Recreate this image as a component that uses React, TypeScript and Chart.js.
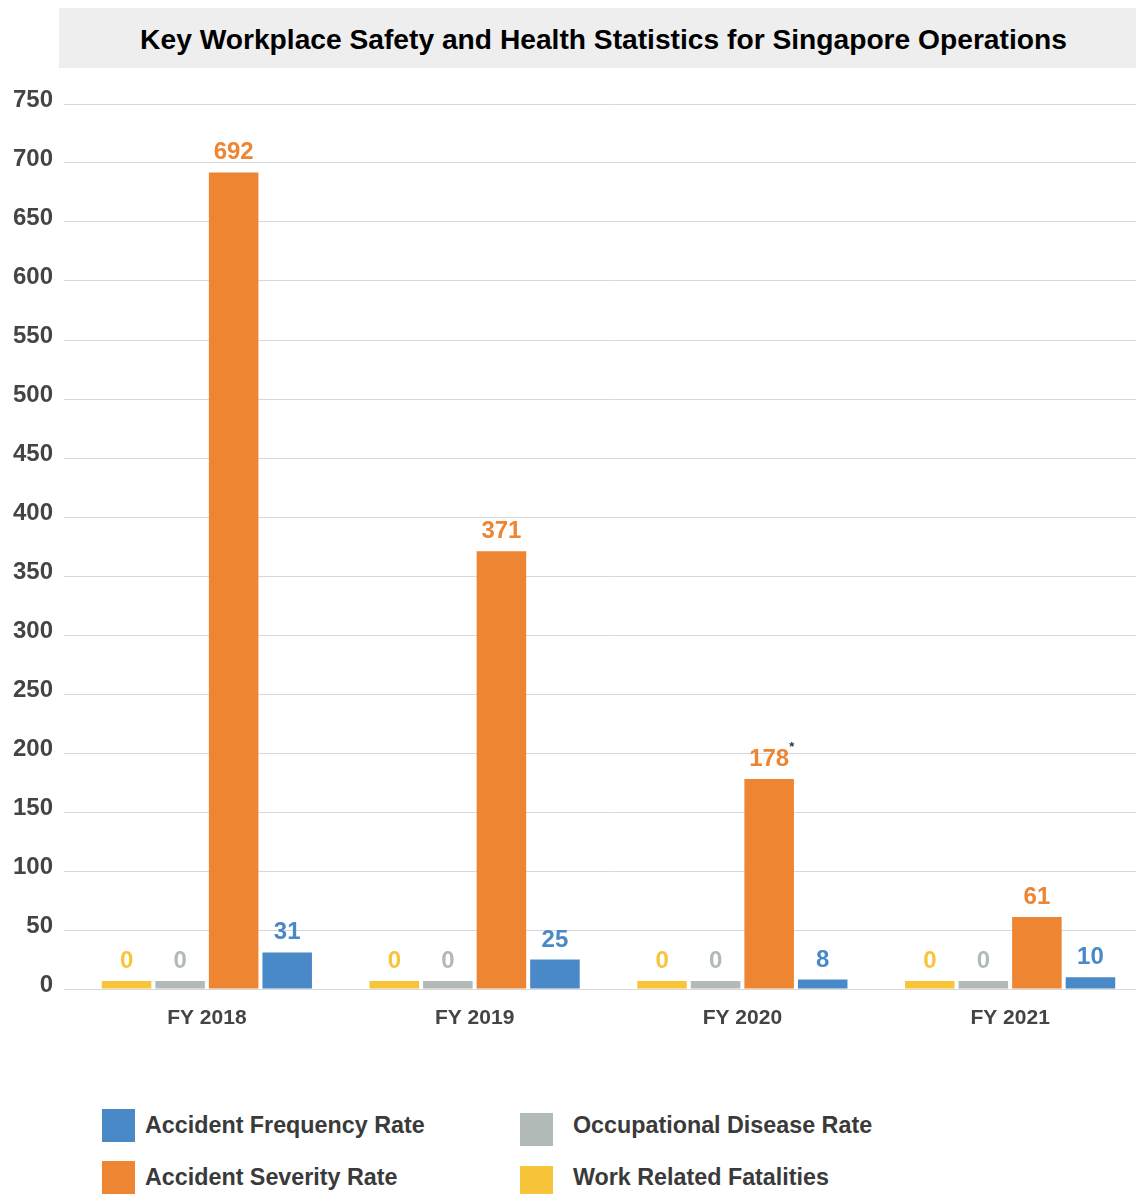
import React, { useEffect, useRef } from "react";
import { Chart, registerables } from "chart.js";

Chart.register(...registerables);

const FONT = '"Liberation Sans", Arial, Helvetica, sans-serif';

const title = "Key Workplace Safety and Health Statistics for Singapore Operations";
const categories = ["FY 2018", "FY 2019", "FY 2020", "FY 2021"];

const workRelatedFatalities = [0, 0, 0, 0];
const occupationalDiseaseRate = [0, 0, 0, 0];
const accidentSeverityRate = [692, 371, 178, 61];
const accidentFrequencyRate = [31, 25, 8, 10];
const severityFootnotes = ["", "", "*", ""];

const yMin = 0;
const yMax = 750;
const yStep = 50;

const COLORS = {
  fatalities: "#f7c43a",
  disease: "#b1bab6",
  severity: "#ee8532",
  frequency: "#4a89c8",
};

const seriesLabels = {
  fatalities: "Work Related Fatalities",
  disease: "Occupational Disease Rate",
  severity: "Accident Severity Rate",
  frequency: "Accident Frequency Rate",
};

// legend grid order (row-major, two columns)
const legendOrder: (keyof typeof COLORS)[] = ["frequency", "disease", "severity", "fatalities"];

const valueLabelPlugin = {
  id: "valueLabels",
  afterDatasetsDraw(chart: any) {
    const ctx = chart.ctx;
    ctx.save();
    chart.data.datasets.forEach((ds: any, di: number) => {
      const meta = chart.getDatasetMeta(di);
      meta.data.forEach((bar: any, i: number) => {
        const text = String(ds.data[i]);
        ctx.font = `bold 24px ${FONT}`;
        ctx.textAlign = "center";
        ctx.textBaseline = "alphabetic";
        ctx.fillStyle = ds.backgroundColor;
        const by = bar.y - 13;
        ctx.fillText(text, bar.x, by);
        const note = ds.footnotes ? ds.footnotes[i] : "";
        if (note) {
          const w = ctx.measureText(text).width;
          ctx.font = `bold 13px ${FONT}`;
          ctx.textAlign = "left";
          ctx.fillStyle = "#333333";
          ctx.fillText(note, bar.x + w / 2, by - 15);
        }
      });
    });
    ctx.restore();
  },
};

export default function App() {
  const canvasRef = useRef<HTMLCanvasElement | null>(null);

  useEffect(() => {
    if (!canvasRef.current) return;
    const chart = new Chart(canvasRef.current, {
      type: "bar",
      data: {
        labels: categories,
        datasets: [
          { label: seriesLabels.fatalities, data: workRelatedFatalities, backgroundColor: COLORS.fatalities },
          { label: seriesLabels.disease, data: occupationalDiseaseRate, backgroundColor: COLORS.disease },
          {
            label: seriesLabels.severity,
            data: accidentSeverityRate,
            backgroundColor: COLORS.severity,
            footnotes: severityFootnotes,
          } as any,
          { label: seriesLabels.frequency, data: accidentFrequencyRate, backgroundColor: COLORS.frequency },
        ],
      },
      options: {
        responsive: false,
        devicePixelRatio: 1,
        animation: false,
        layout: { padding: { top: 34, right: 6, left: 0, bottom: 0 } },
        datasets: {
          bar: {
            categoryPercentage: 0.8,
            barPercentage: 0.925,
            minBarLength: 8,
            borderWidth: 0,
          },
        },
        plugins: {
          legend: { display: false },
          tooltip: { enabled: false },
          title: { display: false },
        },
        scales: {
          x: {
            grid: { display: false, drawTicks: false },
            border: { display: false },
            ticks: {
              font: { family: FONT, size: 21, weight: "bold" },
              color: "#444444",
              padding: 17,
              maxRotation: 0,
              autoSkip: false,
            },
            afterFit: (axis: any) => {
              axis.height = 61;
            },
          },
          y: {
            min: yMin,
            max: yMax,
            ticks: {
              stepSize: yStep,
              font: { family: FONT, size: 24, weight: "bold" },
              color: "#444444",
              padding: 11,
              labelOffset: -4,
            },
            grid: { color: "#d8d8d8", lineWidth: 1, tickLength: 9, drawTicks: true },
            border: { display: false },
            afterFit: (axis: any) => {
              axis.width = 73;
            },
          },
        },
      },
      plugins: [valueLabelPlugin],
    });
    return () => chart.destroy();
  }, []);

  return (
    <div
      style={{
        position: "fixed",
        left: 0,
        top: 0,
        width: 1136,
        height: 1194,
        overflow: "hidden",
        background: "#ffffff",
        fontFamily: FONT,
      }}
    >
      <div
        style={{
          position: "absolute",
          left: 59,
          top: 8,
          width: 1089,
          height: 58,
          paddingTop: 2,
          background: "#eeeeee",
          textAlign: "center",
          lineHeight: "58px",
          fontSize: 28.2,
          fontWeight: "bold",
          color: "#000000",
          whiteSpace: "nowrap",
        }}
      >
        {title}
      </div>
      <canvas
        ref={canvasRef}
        width={1150}
        height={980}
        style={{ position: "absolute", left: 0, top: 70, width: 1150, height: 980 }}
      />
      {legendOrder.map((key, idx) => {
        const col = idx % 2;
        const row = Math.floor(idx / 2);
        const sqLeft = col === 0 ? 102 : 520;
        const sqTop = row === 0 ? (col === 0 ? 1109 : 1113) : col === 0 ? 1161 : 1166;
        const textLeft = col === 0 ? 145 : 573;
        const baseline = row === 0 ? 1133.5 : 1185.5;
        return (
          <React.Fragment key={key}>
            <div
              style={{
                position: "absolute",
                left: sqLeft,
                top: sqTop,
                width: 33,
                height: 33,
                background: COLORS[key],
              }}
            />
            <div
              style={{
                position: "absolute",
                left: textLeft,
                top: baseline - 19.7,
                fontSize: 23.3,
                lineHeight: "23.3px",
                fontWeight: "bold",
                color: "#3a3a3a",
                whiteSpace: "nowrap",
              }}
            >
              {seriesLabels[key]}
            </div>
          </React.Fragment>
        );
      })}
    </div>
  );
}
